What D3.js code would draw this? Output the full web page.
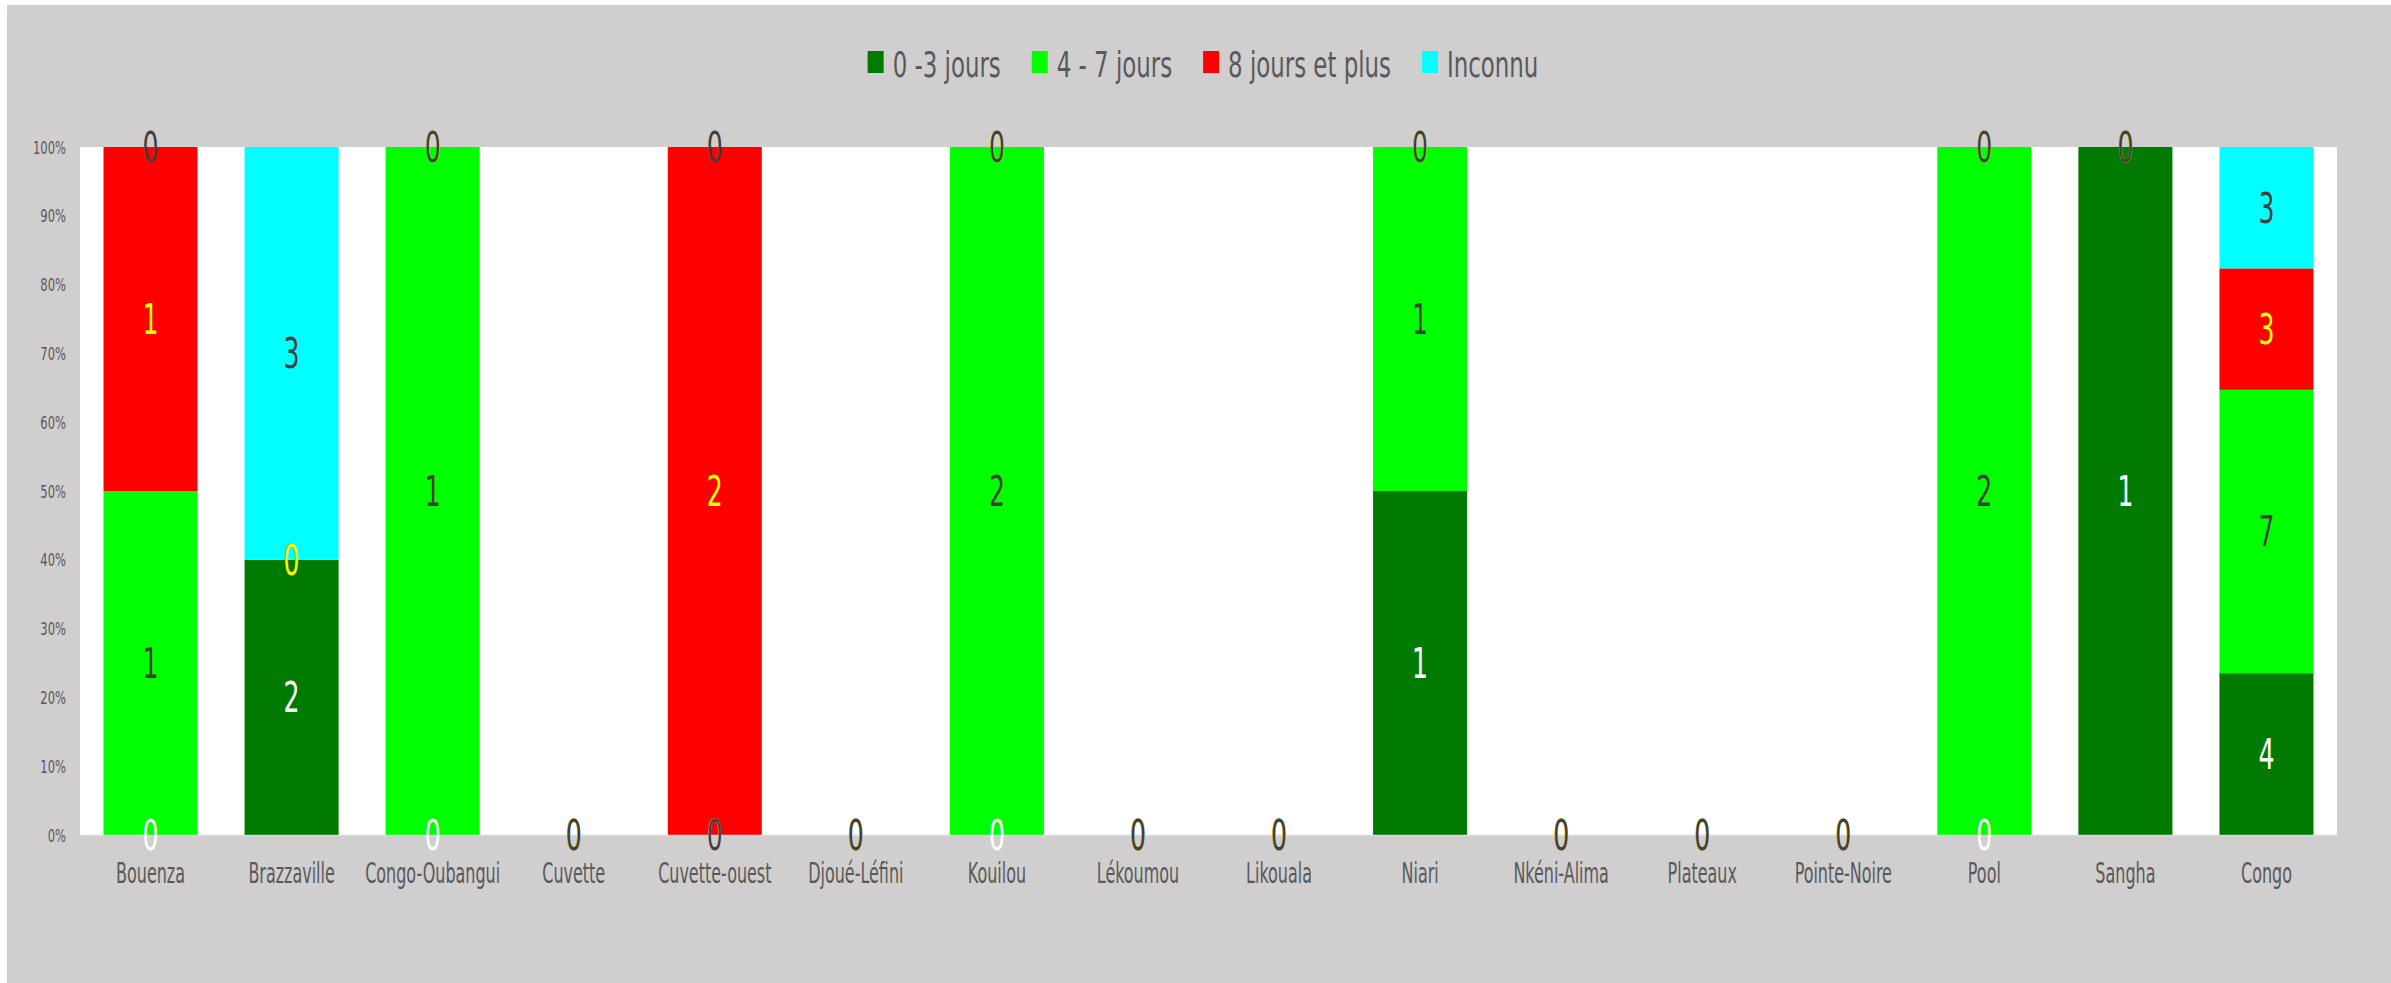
<!DOCTYPE html>
<html>
<head>
<meta charset="utf-8">
<script src="https://cdn.jsdelivr.net/npm/d3@7"></script>
<style>
  body { margin: 0; background: #ffffff; }
  text { font-family: "Liberation Sans Narrow", "Arial Narrow", "DejaVu Sans Condensed", sans-serif; }
</style>
</head>
<body>
<div id="chart"></div>
<script>
var svgWidth = 2391;
var svgHeight = 983;

var margin = {
  top: 147,
  right: 54,
  bottom: 148,
  left: 80
};

const width = svgWidth - margin.left - margin.right;
const height = svgHeight - margin.top - margin.bottom;

// chart data
const regions = ["Bouenza", "Brazzaville", "Congo-Oubangui", "Cuvette", "Cuvette-ouest", "Djoué-Léfini",
  "Kouilou", "Lékoumou", "Likouala", "Niari", "Nkéni-Alima", "Plateaux", "Pointe-Noire", "Pool", "Sangha", "Congo"];
const seriesNames = ["0 -3 jours", "4 - 7 jours", "8 jours et plus", "Inconnu"];
const jours0a3   = [0, 2, 0, 0, 0, 0, 0, 0, 0, 1, 0, 0, 0, 0, 1, 4];
const jours4a7   = [1, 0, 1, 0, 0, 0, 2, 0, 0, 1, 0, 0, 0, 2, 0, 7];
const jours8plus = [1, 0, 0, 0, 2, 0, 0, 0, 0, 0, 0, 0, 0, 0, 0, 3];
const inconnu    = [0, 3, 0, 0, 0, 0, 0, 0, 0, 0, 0, 0, 0, 0, 0, 3];
const yTicks = [0, 0.1, 0.2, 0.3, 0.4, 0.5, 0.6, 0.7, 0.8, 0.9, 1];

const colors = ["#007a00", "#00ff00", "#ff0000", "#00ffff"];
const labelColors = ["#ffffff", "#404040", "#ffff00", "#404040"];

const rows = regions.map(function(r, i) {
  return {
    region: r,
    "0 -3 jours": jours0a3[i],
    "4 - 7 jours": jours4a7[i],
    "8 jours et plus": jours8plus[i],
    "Inconnu": inconnu[i]
  };
});

const stacked = d3.stack()
  .keys(seriesNames)
  .offset(d3.stackOffsetExpand)(rows);

const svg = d3
  .select("#chart")
  .append("svg")
  .attr("width", svgWidth)
  .attr("height", svgHeight);

// the picture uses a very narrow font: squeeze whatever font we get
// so a sample string comes out as wide as it is in the picture
function squeeze(sample, size, target) {
  const t = svg.append("text").style("font-size", size + "px").text(sample);
  const w = t.node().getComputedTextLength();
  t.remove();
  return target / w;
}
const sxTick = squeeze("100%", 17, 33);
const sxCat = squeeze("Bouenza", 29, 69);
const sxLegend = squeeze("8 jours et plus", 36, 163);
const sxLabel = squeeze("0", 43, 16);

// grey chart area
svg.append("rect")
  .attr("x", 7)
  .attr("y", 5)
  .attr("width", svgWidth - 7)
  .attr("height", svgHeight - 5)
  .attr("fill", "#d0cece");

const chartGroup = svg.append("g")
  .attr("transform", `translate(${margin.left}, ${margin.top})`);

chartGroup.append("rect")
  .attr("width", width)
  .attr("height", height)
  .attr("fill", "#ffffff");

const xBandScale = d3.scaleBand()
  .domain(regions)
  .range([0, width])
  .paddingInner(1 / 3)
  .paddingOuter(1 / 6);

const yLinearScale = d3.scaleLinear()
  .domain([0, 1])
  .range([height, 0]);

// bars
const layers = chartGroup.selectAll(".layer")
  .data(stacked).enter()
  .append("g")
  .attr("fill", (d, i) => colors[i]);

layers.selectAll("rect")
  .data(d => d).enter()
  .append("rect")
  .attr("x", d => xBandScale(d.data.region))
  .attr("y", d => yLinearScale(d[1]))
  .attr("width", xBandScale.bandwidth())
  .attr("height", d => yLinearScale(d[0]) - yLinearScale(d[1]));

// axes
const leftAxis = d3.axisLeft(yLinearScale)
  .tickValues(yTicks)
  .tickFormat(d3.format(".0%"))
  .tickSize(0);

const yAxis = chartGroup.append("g").call(leftAxis);
yAxis.select(".domain").remove();
yAxis.selectAll("text")
  .attr("x", 0)
  .attr("dy", null)
  .attr("transform", `translate(-14, 6) scale(${sxTick}, 1)`)
  .attr("fill", "#595959")
  .style("font-size", "17px");

const bottomAxis = d3.axisBottom(xBandScale).tickSize(0);

const xAxis = chartGroup.append("g")
  .attr("transform", `translate(0, ${height})`)
  .call(bottomAxis);
xAxis.select(".domain")
  .attr("stroke", "#d9d9d9")
  .attr("stroke-width", 1.5);
xAxis.selectAll("text")
  .attr("y", 0)
  .attr("dy", null)
  .attr("transform", `translate(0, 48) scale(${sxCat}, 1)`)
  .attr("fill", "#595959")
  .style("font-size", "29px");

// data labels, later series drawn on top
stacked.forEach(function(layer, i) {
  chartGroup.append("g")
    .selectAll("text")
    .data(layer).enter()
    .append("text")
    .attr("text-anchor", "middle")
    .attr("transform", d => `translate(${xBandScale(d.data.region) + xBandScale.bandwidth() / 2}, ${yLinearScale((d[0] + d[1]) / 2) + 15}) scale(${sxLabel}, 1)`)
    .attr("fill", labelColors[i])
    .style("font-size", "43px")
    .text(d => d.data[layer.key]);
});

// legend
const legend = svg.append("g");
let legendX = 0;
seriesNames.forEach(function(name, i) {
  legend.append("rect")
    .attr("x", legendX)
    .attr("y", 51)
    .attr("width", 16)
    .attr("height", 22)
    .attr("fill", colors[i]);
  const t = legend.append("text")
    .attr("transform", `translate(${legendX + 25}, 77) scale(${sxLegend}, 1)`)
    .attr("fill", "#595959")
    .style("font-size", "36px")
    .text(name);
  legendX += 25 + t.node().getComputedTextLength() * sxLegend + 31;
});
legendX -= 31;
legend.attr("transform", `translate(${1203 - legendX / 2}, 0)`);
</script>
</body>
</html>
